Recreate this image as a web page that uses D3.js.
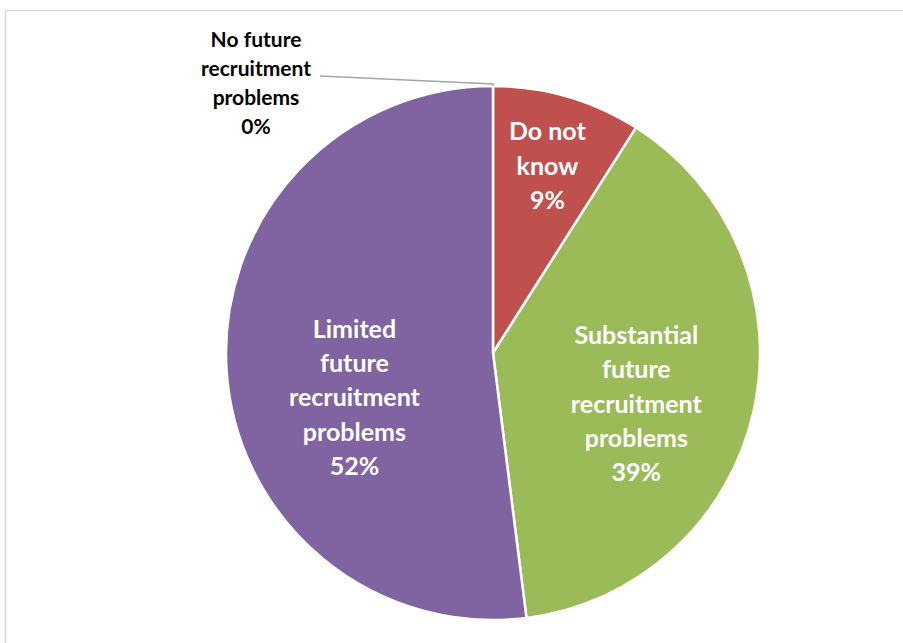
<!DOCTYPE html>
<html><head><meta charset="utf-8">
<script src="https://cdn.jsdelivr.net/npm/d3@7"></script>
<style>body{margin:0;background:#fff}svg{display:block}text{font-family:Lato,"Open Sans",sans-serif;font-weight:bold}</style>
</head><body><svg id="c" width="903" height="643"></svg>
<script>
const categories = ["Do not know", "Substantial future recruitment problems", "Limited future recruitment problems", "No future recruitment problems"];
const values = [9, 39, 52, 0];
const labelLines = [["Do not","know","9%"],["Substantial","future","recruitment","problems","39%"],["Limited","future","recruitment","problems","52%"],["No future","recruitment","problems","0%"]];
const colors = ["#C0504D","#9BBB59","#8064A2","#4BACC6"];

const svg = d3.select("#c");
svg.append("rect").attr("x",5.5).attr("y",10.5).attr("width",1000).attr("height",1000)
  .attr("fill","none").attr("stroke","#d9d9d9").attr("stroke-width",1.5);

const cx = 493, cy = 353, r = 267;
const g = svg.append("g").attr("transform",`translate(${cx},${cy})`);
const data = categories.map((c,i)=>({c,v:values[i],lines:labelLines[i],col:colors[i]}));
const pie = d3.pie().sort(null).value(d=>d.v);
const arcs = pie(data);
const arc = d3.arc().innerRadius(0).outerRadius(r);
g.selectAll("path.s").data(arcs.filter(a=>a.data.v>0)).join("path").attr("class","s")
  .attr("d",arc).attr("fill",d=>d.data.col).attr("stroke","#fff").attr("stroke-width",2.5).attr("stroke-linejoin","round");

// label placement styles
const place = [{rf:0.73,dy:0,fs:25,lh:34.3},{rf:0.55,dy:19,fs:25,lh:34.3},{rf:0.52,dy:36,fs:25,lh:34.3}];
arcs.forEach((a,i)=>{
  if(a.data.v===0) return;
  const p = place[i];
  const [x,y] = d3.arc().innerRadius(r*p.rf).outerRadius(r*p.rf).centroid(a);
  const n = a.data.lines.length;
  const t = g.append("text").attr("text-anchor","middle").attr("fill","#fff").attr("font-size",p.fs);
  a.data.lines.forEach((l,k)=>{
    t.append("tspan").attr("x",x).attr("y",y+p.dy+(k-(n-1)/2)*p.lh+p.fs*0.35).text(l);
  });
});

// zero slice: outside label with leader line
const z = arcs[3];
const [zx,zy] = d3.arc().innerRadius(r).outerRadius(r).centroid(z);
g.append("polyline").attr("points",`${zx},${zy} ${zx},${zy-2} ${zx-173},${zy-10}`)
  .attr("fill","none").attr("stroke","#a6a6a6").attr("stroke-width",1.5);
const zt = g.append("text").attr("text-anchor","middle").attr("fill","#000").attr("font-size",21);
z.data.lines.forEach((l,k)=>{
  zt.append("tspan").attr("x",zx-237).attr("y",zy-39+k*29).text(l);
});
</script></body></html>
